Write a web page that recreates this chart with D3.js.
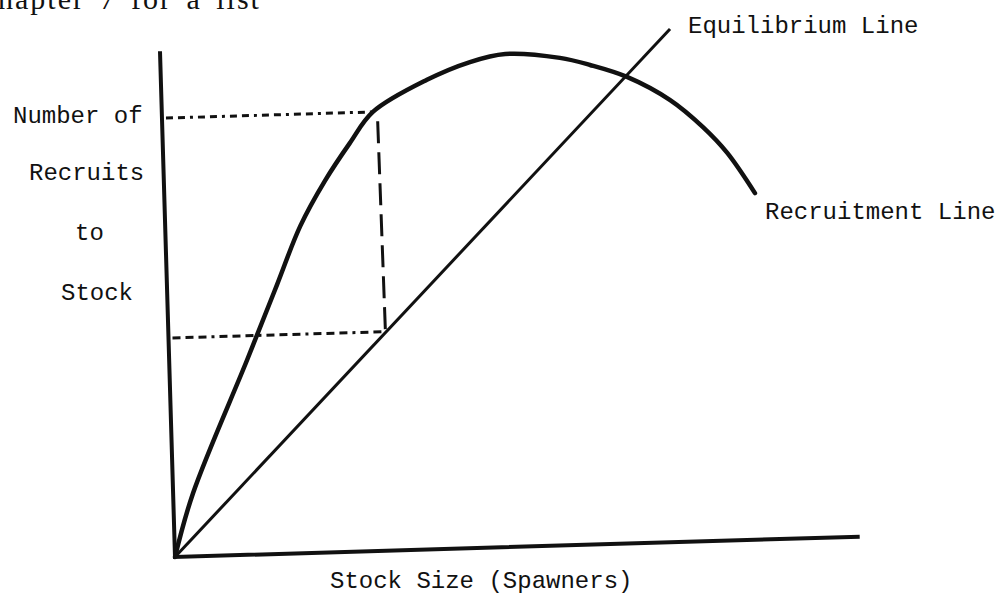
<!DOCTYPE html>
<html>
<head>
<meta charset="utf-8">
<script src="https://cdn.jsdelivr.net/npm/d3@7"></script>
<style>
  html, body { margin: 0; padding: 0; background: #fff; }
  svg { display: block; }
  .tw { font-family: "Liberation Mono", "DejaVu Sans Mono", monospace; font-size: 24px; fill: #111; }
</style>
</head>
<body>
<svg id="chart" width="1001" height="595"></svg>
<script>
// ---- data (stock / recruits units) ----
const recruitStock   = [0, 4.0, 15.6, 22.0, 27.0, 32.2, 37.4, 42.2, 53.2, 61.9, 69.0, 79.9, 85.9, 93.2, 101.7, 108.1, 112.8, 118.1];
const recruitNumbers = [0, 12.7, 39.0, 53.8, 65.4, 74.3, 81.7, 87.8, 93.9, 97.2, 98.6, 97.5, 95.9, 93.3, 88.4, 82.8, 77.5, 69.3];
const equilibStock   = [0, 102.1];
const equilibNumbers = [0, 102.6];
const axisMaxStock = 137;
const axisMaxRecruits = 101.2;
const markStock = 42.6;          // stock level marked by the dashed guides
const markRecruits = 87.8;       // recruits produced by that stock
const markReplacement = 43.8;    // equilibrium (replacement) level at that stock
const yLabelLines = ["Number of", "Recruits", "to", "Stock"];
const xLabel = "Stock Size (Spawners)";
const equilibLabel = "Equilibrium Line";
const recruitLabel = "Recruitment Line";
const headerText = "hapter 7 for a list";

// ---- drawing ----
const svg = d3.select("#chart");
svg.append("rect").attr("width", 1001).attr("height", 595).attr("fill", "#fff");

const x = d3.scaleLinear().domain([0, axisMaxStock]).range([0, 685]);
const y = d3.scaleLinear().domain([0, axisMaxRecruits]).range([0, -506]);

// hand-drawn figure is slightly rotated on the page
const g = svg.append("g").attr("transform", "translate(175,557) rotate(-1.7)");
const ink = "#111";
const line = d3.line().x(d => x(d[0])).y(d => y(d[1]));

// axes
g.append("path").attr("d", line([[0, axisMaxRecruits], [0, 0], [axisMaxStock, 0]]))
  .attr("fill", "none").attr("stroke", ink).attr("stroke-width", 4).attr("stroke-linejoin", "miter");

// equilibrium line
g.append("path").attr("d", line(equilibStock.map((s, i) => [s, equilibNumbers[i]])))
  .attr("fill", "none").attr("stroke", ink).attr("stroke-width", 3);

// recruitment curve
const curve = d3.line().x(d => x(d[0])).y(d => y(d[1])).curve(d3.curveCatmullRom.alpha(0.5));
g.append("path").attr("d", curve(recruitStock.map((s, i) => [s, recruitNumbers[i]])))
  .attr("fill", "none").attr("stroke", ink).attr("stroke-width", 4.5).attr("stroke-linecap", "round");

// guides
g.append("path").attr("d", line([[0.8, markRecruits], [markStock - 0.6, markRecruits]]))
  .attr("fill", "none").attr("stroke", ink).attr("stroke-width", 3).attr("stroke-dasharray", "7,5,7,5,3,5");
g.append("path").attr("d", line([[0.8, markReplacement], [markStock + 0.6, markReplacement]]))
  .attr("fill", "none").attr("stroke", ink).attr("stroke-width", 3).attr("stroke-dasharray", "8,5,8,5,8,5,3,5");
g.append("path").attr("d", line([[markStock + 0.8, markReplacement + 0.5], [markStock + 0.5, markRecruits - 1.6]]))
  .attr("fill", "none").attr("stroke", ink).attr("stroke-width", 3).attr("stroke-dasharray", "22,9");

// texts
const yPos = [[13, 123], [29, 180], [75, 240], [61, 300]];
yLabelLines.forEach((t, i) => {
  svg.append("text").attr("class", "tw").attr("x", yPos[i][0]).attr("y", yPos[i][1]).text(t);
});
svg.append("text").attr("class", "tw").attr("x", 330).attr("y", 588).text(xLabel);
svg.append("text").attr("class", "tw").attr("x", 688).attr("y", 33).text(equilibLabel);
svg.append("text").attr("class", "tw").attr("x", 765).attr("y", 219).text(recruitLabel);
svg.append("text").attr("x", -2).attr("y", 9)
  .attr("font-family", "Liberation Serif, serif").attr("font-size", 30).attr("fill", "#111")
  .attr("letter-spacing", 2).attr("word-spacing", 5)
  .text(headerText);
</script>
</body>
</html>
